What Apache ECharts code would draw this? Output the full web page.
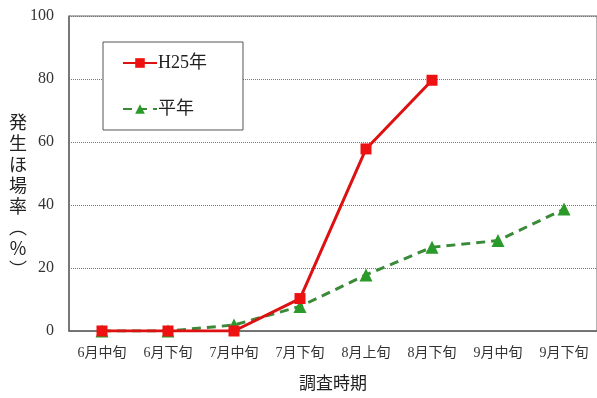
<!DOCTYPE html>
<html>
<head>
<meta charset="utf-8">
<script src="https://cdn.jsdelivr.net/npm/echarts@6/dist/echarts.min.js"></script>
<style>
  html, body { margin: 0; padding: 0; background: #fff; }
  #chart { width: 597px; height: 398px; }
</style>
</head>
<body>
<div id="chart"></div>
<script>
// 調査時期
const periods = ['6月中旬', '6月下旬', '7月中旬', '7月下旬', '8月上旬', '8月下旬', '9月中旬', '9月下旬']
// 発生ほ場率 (%)
const h25 = [0, 0, 0, 10.3, 57.8, 79.6]
const normalYear = [0, 0, 1.9, 7.8, 17.8, 26.6, 28.7, 38.7]
const seriesNames = ['H25年', '平年']
const yName = '発生ほ場率︵％︶'

const FONT = '"Liberation Serif", "Noto Sans CJK JP", serif'

const chart = echarts.init(document.getElementById('chart'), null, { renderer: 'canvas' })

chart.setOption({
  animation: false,
  textStyle: { fontFamily: FONT },
  grid: {
    left: 69,
    top: 16,
    width: 531,
    height: 320,
    show: true,
    borderColor: '#666',
    borderWidth: 1,
  },
  legend: {
    data: seriesNames,
    orient: 'vertical',
    left: 103,
    top: 42,
    padding: [12, 36, 12, 19],
    itemGap: 28,
    itemWidth: 34,
    itemHeight: 12,
    borderColor: '#555',
    borderWidth: 1,
    backgroundColor: '#fff',
    textStyle: { fontFamily: FONT, fontSize: 18, color: '#222', padding: [0, 0, 0, -4] },
  },
  // 縦書きの軸名
  graphic: [
    {
      type: 'text',
      left: 9,
      top: 114,
      style: {
        text: yName.split('').join('\n'),
        font: '18px ' + FONT,
        fill: '#222',
        lineHeight: 21,
        align: 'center',
      },
    },
  ],
  xAxis: {
    type: 'category',
    data: periods,
    name: '調査時期',
    nameLocation: 'middle',
    nameGap: 45,
    nameTextStyle: { fontFamily: FONT, fontSize: 17, color: '#222' },
    axisLine: { lineStyle: { color: '#666', width: 1.5 } },
    axisTick: { inside: true, length: 4, lineStyle: { color: '#666' } },
    axisLabel: { fontFamily: FONT, fontSize: 14, color: '#333', margin: 15 },
    splitLine: { show: false },
  },
  yAxis: {
    type: 'value',
    min: 0,
    max: 100,
    interval: 20,
    axisLine: { show: true, lineStyle: { color: '#666', width: 1.5 } },
    axisTick: { show: false },
    axisLabel: { fontFamily: FONT, fontSize: 16, color: '#333', margin: 15 },
    splitLine: { lineStyle: { color: '#777', type: [1, 1], width: 1 } },
  },
  series: [
    {
      name: seriesNames[0],
      type: 'line',
      data: h25,
      symbol: 'rect',
      symbolSize: 11,
      itemStyle: { color: '#ee1111' },
      lineStyle: { color: '#dd1111', width: 3 },
      z: 3,
    },
    {
      name: seriesNames[1],
      type: 'line',
      data: normalYear,
      symbol: 'triangle',
      symbolSize: 13,
      itemStyle: { color: '#2a9a2a' },
      lineStyle: { color: '#3a8a3a', width: 3, type: [9, 6] },
      z: 2,
    },
  ],
})
</script>
</body>
</html>
